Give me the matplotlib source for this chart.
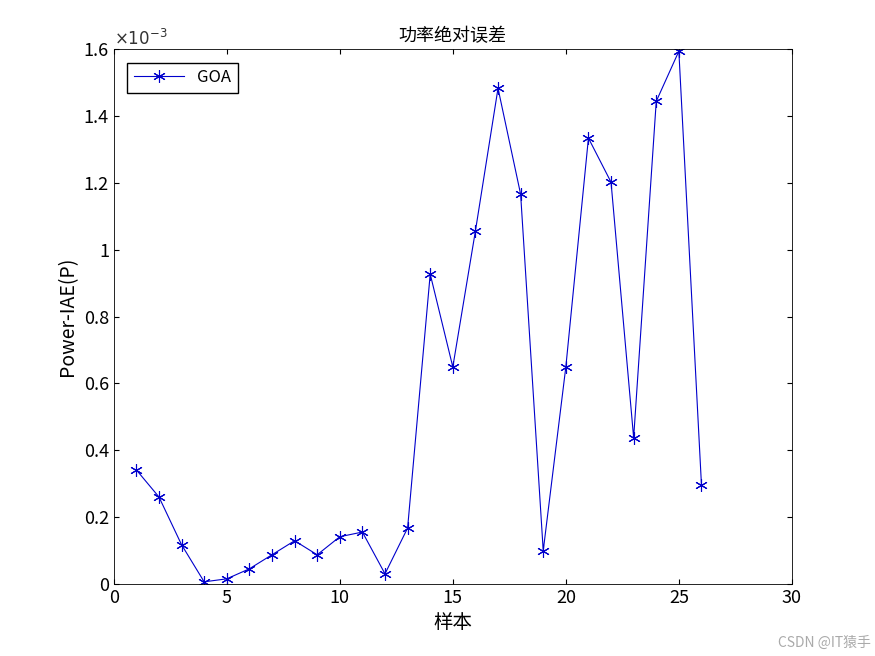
import numpy as np
import matplotlib
matplotlib.use("Agg")
import matplotlib.pyplot as plt

plt.rcParams['font.family'] = ['Noto Sans CJK SC', 'DejaVu Sans']

samples = np.arange(1, 27)
iae = np.array([0.341, 0.260, 0.117, 0.006, 0.015, 0.045, 0.087, 0.129, 0.087, 0.141,
                0.155, 0.030, 0.167, 0.927, 0.649, 1.056, 1.483, 1.166, 0.099, 0.649,
                1.334, 1.202, 0.437, 1.444, 1.594, 0.296]) * 1e-3

fig = plt.figure(figsize=(8.75, 6.56), dpi=100)
ax = fig.add_axes([0.130, 0.110, 0.775, 0.815])
ax.plot(samples, iae, color='#0000cc', lw=0.8, marker=(6, 2, 0), ms=9, mew=0.8, label='GOA')

ax.set_xlim(0, 30)
ax.set_ylim(0, 1.6e-3)
ax.set_yticks(np.arange(0, 1.61e-3, 0.2e-3))
ax.set_yticklabels(['0', '0.2', '0.4', '0.6', '0.8', '1', '1.2', '1.4', '1.6'])
ax.tick_params(direction='in', labelsize=13, top=True, right=True)
for s in ax.spines.values():
    s.set_linewidth(0.6)
ax.text(0, 1.0, r'$\times10^{-3}$', transform=ax.transAxes, fontsize=12, va='bottom', ha='left',
        family='DejaVu Sans', color='#333333')

ax.set_title('功率绝对误差', fontsize=13)
ax.set_xlabel('样本', fontsize=14)
ax.set_ylabel('Power-IAE(P)', fontsize=14)
ax.legend(loc='upper left', fontsize=12, fancybox=False, edgecolor='black', framealpha=1,
          handlelength=3, borderaxespad=0.8)

fig.text(0.995, 0.01, 'CSDN @IT猿手', ha='right', va='bottom', fontsize=10, color='#aaaaaa')
fig.savefig('out.png')
